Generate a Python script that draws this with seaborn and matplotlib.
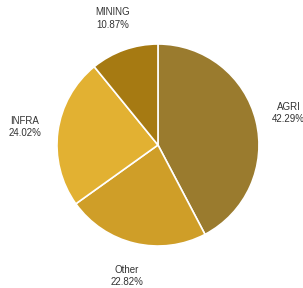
import matplotlib
matplotlib.use("Agg")
import matplotlib.pyplot as plt
import seaborn as sns

# data
sectors = ["AGRI", "Other", "INFRA", "MINING"]
shares = [42.29, 22.82, 24.02, 10.87]
colors = ["#9a7b2e", "#cf9e28", "#e2b132", "#a67a12"]

sns.set_style("white")
plt.rcParams["font.family"] = ["Liberation Sans", "DejaVu Sans"]
palette = sns.color_palette(colors)

fig = plt.figure(figsize=(3.03, 2.88), dpi=100)
ax = fig.add_axes([0.188, 0.1458, 0.6667, 0.7014])

labels = [f"{s}\n{v:.2f}%" for s, v in zip(sectors, shares)]
wedges, texts = ax.pie(
    shares,
    labels=labels,
    colors=palette,
    startangle=90,
    counterclock=False,
    labeldistance=1.33,
    wedgeprops={"edgecolor": "white", "linewidth": 1.2},
    textprops={"fontsize": 7, "color": "#333333", "ha": "center", "va": "center",
               "linespacing": 1.3},
)
for t in texts:
    t.set_horizontalalignment("center")

ax.set_xlim(-1, 1)
ax.set_ylim(-1, 1)
ax.set_aspect("equal")
ax.axis("off")

fig.savefig("out.png", dpi=100)
